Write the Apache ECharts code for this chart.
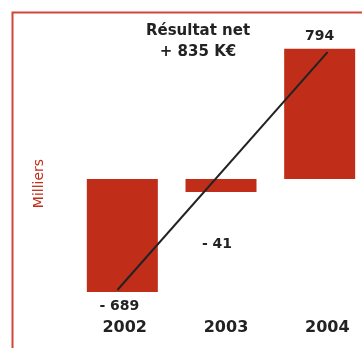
<!DOCTYPE html>
<html>
<head>
<meta charset="utf-8">
<script src="https://cdn.jsdelivr.net/npm/echarts@6/dist/echarts.min.js"></script>
<style>
  html, body { margin: 0; padding: 0; background: #fff; }
  #chartArea { width: 362px; height: 348px; }
</style>
</head>
<body>
<div id="chartArea"></div>
<script>
let years = ['2002', '2003', '2004'];
let results = [-689, -41, 794];
let resultLabels = ['- 689', '- 41', '794'];
// trend line drawn over the bars (x in category units)
let trendX = [-0.05, 2.08];
let trendY = [-677, 774];

let barColor = '#c02e1a';
let frameColor = '#d0473a';
let textColor = '#222222';
let fontName = 'DejaVu Sans';

let myChart = echarts.init(document.getElementById('chartArea'));

let barData = results.map(function (v, i) {
    let lbl = {
        show: true,
        formatter: resultLabels[i],
        color: textColor,
        fontFamily: fontName,
        fontWeight: 'bold',
        fontSize: 14
    };
    if (i === 0) {
        lbl.position = 'bottom';
        lbl.distance = 7;
        lbl.offset = [-3, 0];
    } else if (i === 1) {
        lbl.position = 'bottom';
        lbl.distance = 45;
        lbl.offset = [-4, 0];
    } else {
        lbl.position = 'top';
        lbl.distance = 5;
    }
    return {value: v, label: lbl};
});

let option = {
    animation: false,
    title: {
        text: 'Résultat net\n+ 835 K€',
        left: 193,
        top: 16,
        textAlign: 'center',
        textStyle: {
            color: textColor,
            fontFamily: fontName,
            fontWeight: 'bold',
            fontSize: 15,
            lineHeight: 21
        }
    },
    graphic: [
        {
            type: 'polyline',
            shape: {points: [[12.5, 348], [12.5, 12.5], [362, 12.5]]},
            style: {stroke: frameColor, lineWidth: 2, fill: null}
        }
    ],
    grid: [
        {left: 73, width: 296, top: 15, height: 328, outerBoundsMode: 'none'},
        {left: 74, width: 304, top: 15, height: 305, outerBoundsMode: 'none'}
    ],
    xAxis: [
        {
            type: 'category',
            gridIndex: 0,
            data: years,
            show: false
        },
        {
            type: 'value',
            gridIndex: 0,
            min: -0.5,
            max: 2.5,
            show: false
        },
        {
            type: 'category',
            gridIndex: 1,
            data: years,
            axisLine: {show: false},
            axisTick: {show: false},
            axisLabel: {
                margin: 0,
                color: textColor,
                fontFamily: fontName,
                fontWeight: 'bold',
                fontSize: 16
            }
        }
    ],
    yAxis: [
        {
            type: 'value',
            gridIndex: 0,
            min: -1000,
            max: 1000,
            offset: 60,
            axisLine: {show: false},
            axisTick: {show: false},
            axisLabel: {show: false},
            splitLine: {show: false},
            name: 'Milliers',
            nameLocation: 'middle',
            nameRotate: 90,
            nameGap: -33,
            nameTextStyle: {
                color: barColor,
                fontFamily: fontName,
                fontSize: 14,
                padding: [0, 9, 0, 0]
            }
        },
        {
            type: 'value',
            gridIndex: 1,
            show: false
        }
    ],
    series: [
        {
            type: 'bar',
            xAxisIndex: 0,
            yAxisIndex: 0,
            data: barData,
            barWidth: 71,
            barMinHeight: 13,
            itemStyle: {color: barColor}
        },
        {
            type: 'line',
            xAxisIndex: 1,
            yAxisIndex: 0,
            data: trendX.map(function (x, i) { return [x, trendY[i]]; }),
            showSymbol: false,
            symbol: 'none',
            lineStyle: {color: textColor, width: 2}
        }
    ]
};

myChart.setOption(option);
</script>
</body>
</html>
